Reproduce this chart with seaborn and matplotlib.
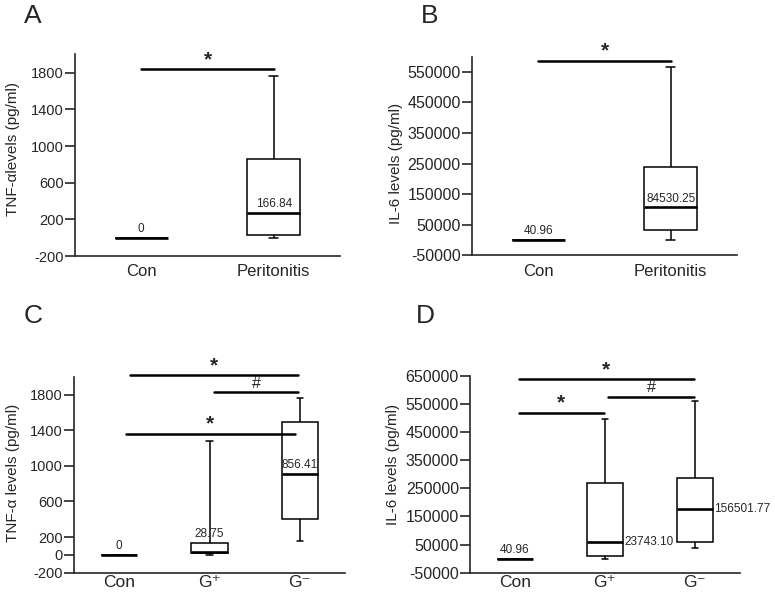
import numpy as np
import pandas as pd
import matplotlib
matplotlib.use("Agg")
import matplotlib.pyplot as plt
import seaborn as sns

groups_two = ["Con", "Peritonitis"]
groups_three = ["Con", "G⁺", "G⁻"]

# five numbers per group: low whisker, Q1, median, Q3, high whisker
tnf_a = [[0, 0, 0, 0, 0], [0, 25, 273, 858, 1764]]
il6_b = [[40.96] * 5, [0, 31400, 106300, 238000, 565300]]
tnf_c = [[0, 0, 0, 0, 0], [0, 25, 30, 137, 1281], [155, 407, 907, 1493, 1759]]
il6_d = [[40.96] * 5, [0, 8500, 58000, 270300, 497900], [39200, 59200, 176000, 285600, 560400]]

# median values printed on the figure
labels_a = ["0", "166.84"]
labels_b = ["40.96", "84530.25"]
labels_c = ["0", "28.75", "856.41"]
labels_d = ["40.96", "23743.10", "156501.77"]

yticks_tnf_a = [-200, 200, 600, 1000, 1400, 1800]
yticks_tnf_c = [-200, 0, 200, 600, 1000, 1400, 1800]
yticks_il6_b = [-50000, 50000, 150000, 250000, 350000, 450000, 550000]
yticks_il6_d = [-50000, 50000, 150000, 250000, 350000, 450000, 550000, 650000]

# significance bars: from group, to group, height, mark
sig_a = [(0, 1, 1840, "*")]
sig_b = [(0, 1, 587000, "*")]
sig_c = [(0.12, 1.98, 2016, "*"), (1.05, 1.98, 1826, "#"), (0.07, 1.95, 1359, "*")]
sig_d = [(0.04, 1.99, 638200, "*"), (1.04, 1.99, 575700, "#"), (0.04, 0.985, 519100, "*")]

sns.set_style("ticks")
plt.rcParams["font.family"] = ["Liberation Sans", "DejaVu Sans"]
plt.rcParams["axes.unicode_minus"] = False


def draw_panel(ax, groups, values, labels, where, ylim, yticks, ylabel, label_pos, sig,
               ytick_size, xtick_size, xpad):
    df = pd.DataFrame({"group": np.repeat(groups, 5), "value": np.concatenate(values)})
    sns.boxplot(data=df, x="group", y="value", order=groups, width=0.4, whis=(0, 100),
                color="white", linecolor="black", linewidth=1.1, showfliers=False,
                medianprops={"linewidth": 1.9}, ax=ax)
    # short whisker caps
    for cont in ax.containers:
        for cap in cont.caps:
            x0, x1 = cap.get_xdata()
            mid = (x0 + x1) / 2
            cap.set_xdata([mid - 0.035, mid + 0.035])

    for i, (lab, w) in enumerate(zip(labels, where)):
        q = values[i]
        if w == "right":
            ax.annotate(lab, (i + 0.2, q[2]), xytext=(1, 0), textcoords="offset points",
                        ha="left", va="center", fontsize=8.5)
        else:
            yv = q[3] if w == "q3" else q[2]
            ax.annotate(lab, (i, yv), xytext=(0, 2), textcoords="offset points",
                        ha="center", va="bottom", fontsize=8.5)

    for x0, x1, y, mark in sig:
        ax.plot([x0, x1], [y, y], color="black", lw=1.8, clip_on=False)
        if mark == "*":
            ax.annotate(mark, ((x0 + x1) / 2, y), xytext=(0, 0), textcoords="offset points",
                        ha="center", va="bottom", fontsize=15, fontweight="bold",
                        annotation_clip=False)
        else:
            ax.annotate(mark, ((x0 + x1) / 2, y), xytext=(0, 1), textcoords="offset points",
                        ha="center", va="bottom", fontsize=11.5,
                        annotation_clip=False)

    ax.set_xlim(-0.5, len(groups) - 0.5)
    ax.set_ylim(ylim)
    ax.set_yticks(yticks)
    ax.set_xlabel("")
    ax.set_ylabel(ylabel, fontsize=11)
    ax.yaxis.set_label_coords(*label_pos)
    sns.despine(ax=ax)
    for s in ["left", "bottom"]:
        ax.spines[s].set_linewidth(1.2)
    ax.tick_params(axis="y", direction="out", length=7, width=1.2, labelsize=ytick_size, pad=1)
    ax.tick_params(axis="x", length=0, labelsize=xtick_size, pad=xpad)


fig = plt.figure(figsize=(7.75, 5.95), dpi=100)
ax_a = fig.add_axes([0.0968, 0.5697, 0.342, 0.339])
ax_b = fig.add_axes([0.609, 0.571, 0.342, 0.3338])
ax_c = fig.add_axes([0.0955, 0.0375, 0.3497, 0.3294])
ax_d = fig.add_axes([0.6065, 0.0375, 0.348, 0.3306])

draw_panel(ax_a, groups_two, tnf_a, labels_a, ["med", "med"], (-200, 2000), yticks_tnf_a,
           "TNF-αlevels (pg/ml)", (-0.208, 0.53), sig_a, 10.5, 12, 6)
draw_panel(ax_b, groups_two, il6_b, labels_b, ["med", "med"], (-50000, 600000), yticks_il6_b,
           "IL-6 levels (pg/ml)", (-0.262, 0.46), sig_b, 11.5, 12, 6)
draw_panel(ax_c, groups_three, tnf_c, labels_c, ["med", "q3", "med"], (-200, 2000), yticks_tnf_c,
           "TNF-α levels (pg/ml)", (-0.2, 0.51), sig_c, 10.5, 12.5, 2)
draw_panel(ax_d, groups_three, il6_d, labels_d, ["med", "right", "right"], (-50000, 650000),
           yticks_il6_d, "IL-6 levels (pg/ml)", (-0.258, 0.55), sig_d, 11.5, 12.5, 2)

for letter, x, y in [("A", 24, 4), ("B", 421, 4), ("C", 24, 304), ("D", 416, 304)]:
    fig.text(x / 775, 1 - y / 595, letter, fontsize=19, va="top", ha="left")

fig.savefig("out.png", dpi=100)
